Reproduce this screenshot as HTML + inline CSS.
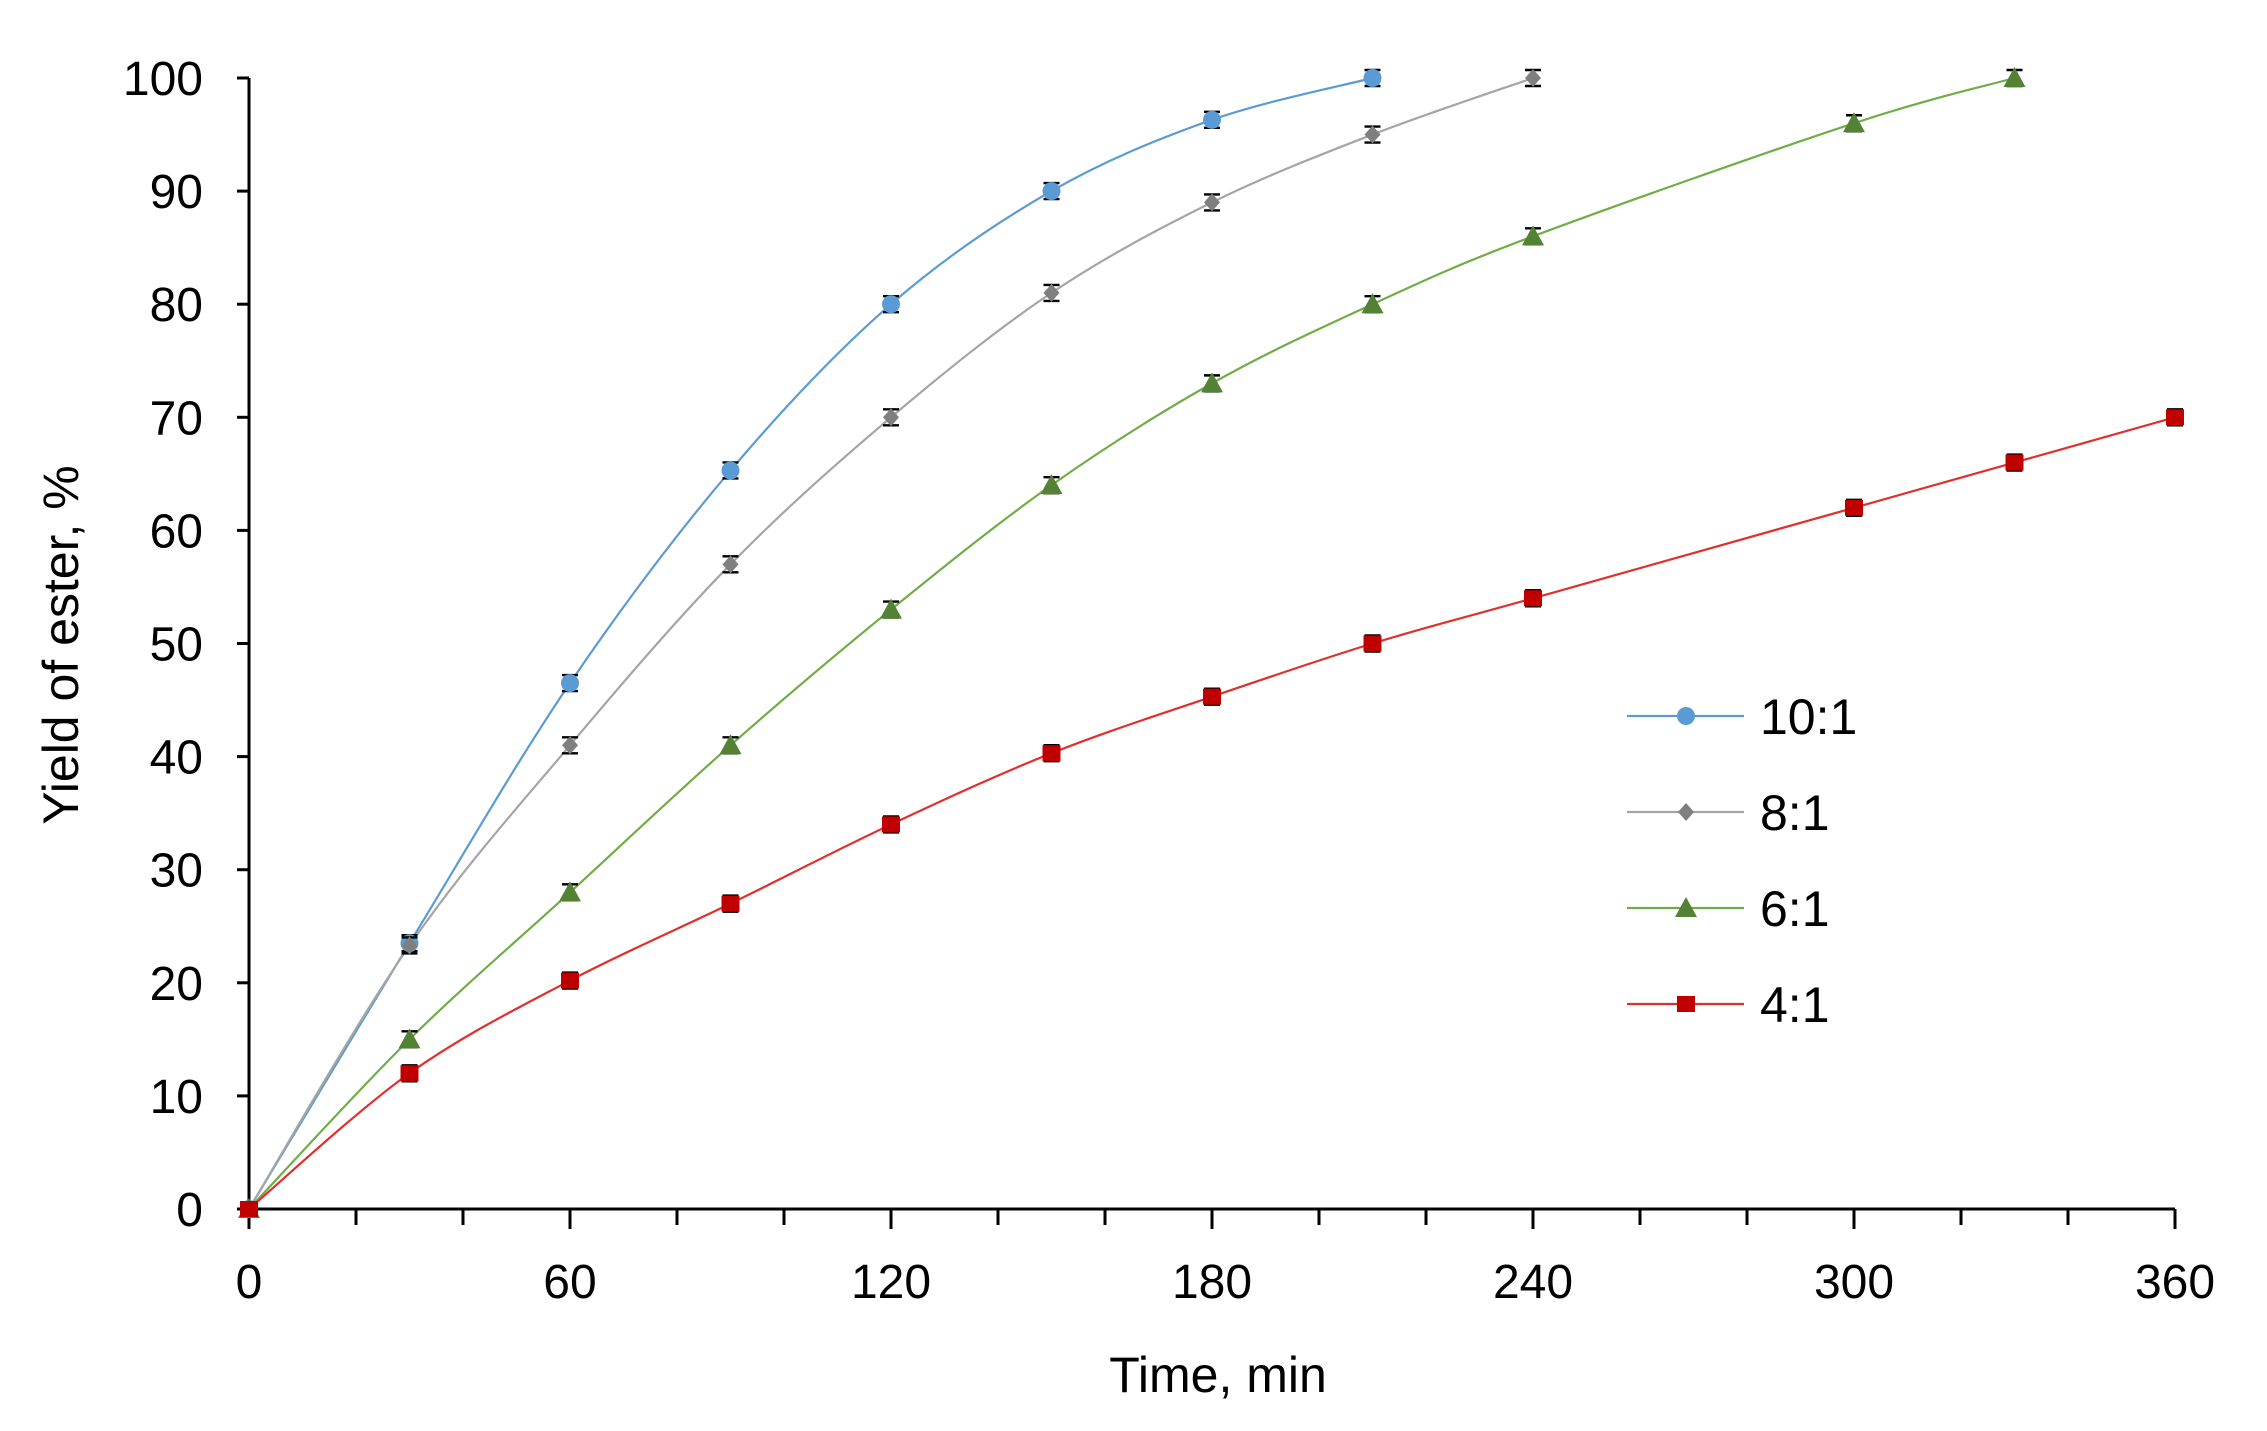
<!DOCTYPE html>
<html><head><meta charset="utf-8"><style>
html,body{margin:0;padding:0;background:#fff;}
svg text{font-family:"Liberation Sans",sans-serif;fill:#000;}
</style></head><body>
<svg id="s" width="2267" height="1426" viewBox="0 0 2267 1426" xmlns="http://www.w3.org/2000/svg">
<g id="axes" stroke="#000" stroke-width="3" fill="none"></g>
<g id="lbl" font-size="48"></g>
<text x="1218" y="1392" font-size="50" text-anchor="middle">Time, min</text>
<text transform="translate(78,645) rotate(-90)" font-size="50" text-anchor="middle">Yield of ester, %</text>
<g id="plot"></g>
<g id="leg" font-size="50"></g>
</svg>
<script>
const NS="http://www.w3.org/2000/svg";
function el(p,t,a,txt){const e=document.createElementNS(NS,t);for(const k in a)e.setAttribute(k,a[k]);if(txt!=null)e.textContent=txt;p.appendChild(e);return e;}
const X=t=>249+t*5.35, Y=v=>1209-v*11.31;
const ax=document.getElementById('axes'),lb=document.getElementById('lbl');
el(ax,'line',{x1:249,y1:Y(100),x2:249,y2:1211});
el(ax,'line',{x1:237,y1:1209,x2:X(360),y2:1209});
for(let v=0;v<=100;v+=10){el(ax,'line',{x1:237,y1:Y(v),x2:249,y2:Y(v)});el(lb,'text',{x:203,y:Y(v)+17,'text-anchor':'end'},v);}
for(let t=0;t<=360;t+=20){const maj=t%60==0;el(ax,'line',{x1:X(t),y1:1209,x2:X(t),y2:maj?1229:1225});if(maj)el(lb,'text',{x:X(t),y:1298,'text-anchor':'middle'},t);}
const S=[
{c:'#5B9BD5',m:'#5B9BD5',k:'c',d:[[0,0],[30,23.5],[60,46.5],[90,65.3],[120,80],[150,90],[180,96.3],[210,100]]},
{c:'#A5A5A5',m:'#7F7F7F',k:'d',d:[[0,0],[30,23.3],[60,41],[90,57],[120,70],[150,81],[180,89],[210,95],[240,100]]},
{c:'#70AD47',m:'#548235',k:'t',d:[[0,0],[30,15],[60,28],[90,41],[120,53],[150,64],[180,73],[210,80],[240,86],[300,96],[330,100]]},
{c:'#E0302E',m:'#C00000',k:'s',d:[[0,0],[30,12],[60,20.2],[90,27],[120,34],[150,40.3],[180,45.3],[210,50],[240,54],[300,62],[330,66],[360,70]]}];
const pl=document.getElementById('plot');
function marker(g,k,x,y,col){
 if(k=='c')el(g,'circle',{cx:x,cy:y,r:9,fill:col});
 else if(k=='d')el(g,'polygon',{points:`${x},${y-9} ${x+8},${y} ${x},${y+9} ${x-8},${y}`,fill:col});
 else if(k=='t')el(g,'polygon',{points:`${x},${y-11} ${x+11},${y+9} ${x-11},${y+9}`,fill:col});
 else el(g,'rect',{x:x-9,y:y-8,width:18,height:16,fill:col});
}
S.forEach(s=>{
 const p=s.d.map(([t,v])=>[X(t),Y(v)]);
 let d=`M${p[0][0]},${p[0][1]}`;
 for(let i=0;i<p.length-1;i++){const p0=p[Math.max(0,i-1)],p1=p[i],p2=p[i+1],p3=p[Math.min(p.length-1,i+2)];
  const c1=[p1[0]+(p2[0]-p0[0])/6,p1[1]+(p2[1]-p0[1])/6],c2=[p2[0]-(p3[0]-p1[0])/6,p2[1]-(p3[1]-p1[1])/6];
  d+=` C${c1[0]},${c1[1]} ${c2[0]},${c2[1]} ${p2[0]},${p2[1]}`;}
 el(pl,'path',{d:d,stroke:s.c,'stroke-width':2.2,fill:'none'});
});
S.forEach(s=>{s.d.forEach(([t,v])=>{const x=X(t),y=Y(v);
 if(t>0){const e=8;el(pl,'path',{d:`M${x},${y-e}V${y+e}M${x-8},${y-e}H${x+8}M${x-8},${y+e}H${x+8}`,stroke:'#000','stroke-width':2.4,fill:'none'});}
 marker(pl,s.k,x,y,s.m);});});
const lg=document.getElementById('leg');
['10:1','8:1','6:1','4:1'].forEach((n,i)=>{const y=716+i*96,s=S[i];
 el(lg,'line',{x1:1627,y1:y,x2:1744,y2:y,stroke:s.c,'stroke-width':2.2});
 marker(lg,s.k,1686,y,s.m);
 el(lg,'text',{x:1760,y:y+18},n);});
</script>
</body></html>
